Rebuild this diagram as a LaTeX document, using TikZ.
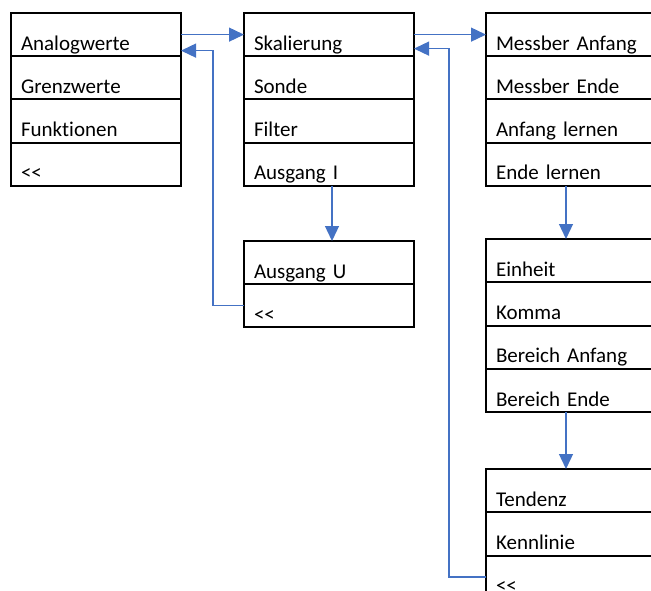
\documentclass[tikz,border=0pt]{standalone}
\usepackage{fontspec}
\setmainfont{Carlito}[Ligatures={NoCommon}]
\usetikzlibrary{arrows.meta}
\definecolor{linkblue}{HTML}{4472C4}
\newcommand{\backmark}{<\kern0pt<}
\tikzset{
  menurow/.style={draw, line width=2pt, anchor=north west, outer sep=0pt,
    inner xsep=10pt, inner ysep=0pt, text width=150pt, align=left,
    text height=37.25pt, text depth=6pt,
    font=\fontsize{21}{25}\selectfont},
  shortrow/.style={menurow, text height=37pt},
  link/.style={draw=linkblue, line width=1.3pt,
    -{Triangle[length=15pt,width=14pt]}}
}
\begin{document}
\begin{tikzpicture}[x=1pt,y=-1pt]
\useasboundingbox (0,0) rectangle (651,591);
\clip (0,0) rectangle (651,591);

% main menu
\node[menurow] (a1) at (11,13) {Analogwerte};
\node[menurow] (a2) at (a1.south west) {Grenzwerte};
\node[menurow] (a3) at (a2.south west) {Funktionen};
\node[menurow] (a4) at (a3.south west) {\backmark};

% analog values menu
\node[menurow] (b1) at (244,13) {Skalierung};
\node[menurow] (b2) at (b1.south west) {Sonde};
\node[menurow] (b3) at (b2.south west) {Filter};
\node[menurow] (b4) at (b3.south west) {Ausgang I};

% output submenu
\node[shortrow] (d1) at (244,241) {Ausgang U};
\node[shortrow] (d2) at (d1.south west) {\backmark};

% scaling menu
\node[menurow] (c1) at (486,13) {Messber Anfang};
\node[menurow] (c2) at (c1.south west) {Messber Ende};
\node[menurow] (c3) at (c2.south west) {Anfang lernen};
\node[menurow] (c4) at (c3.south west) {Ende lernen};

\node[menurow] (e1) at (486,239) {Einheit};
\node[menurow] (e2) at (e1.south west) {Komma};
\node[menurow] (e3) at (e2.south west) {Bereich Anfang};
\node[menurow] (e4) at (e3.south west) {Bereich Ende};

\node[menurow] (f1) at (486,469) {Tendenz};
\node[menurow] (f2) at (f1.south west) {Kennlinie};
\node[menurow] (f3) at (f2.south west) {\backmark};

% navigation links
\draw[link] (a1.east) -- (b1.west);
\draw[link] (b1.east) -- (c1.west);
\draw[link] (d2.west) -- ++(-31,0) |- ([yshift=-16pt]a1.east);
\draw[link] (f3.west) -- ++(-37,0) |- ([yshift=-14pt]b1.east);
\draw[link] ([xshift=3pt]b4.south) -- ([xshift=3pt]d1.north);
\draw[link] ([xshift=-5pt]c4.south) -- ([xshift=-5pt]e1.north);
\draw[link] ([xshift=-5pt]e4.south) -- ([xshift=-5pt]f1.north);
\end{tikzpicture}
\end{document}
